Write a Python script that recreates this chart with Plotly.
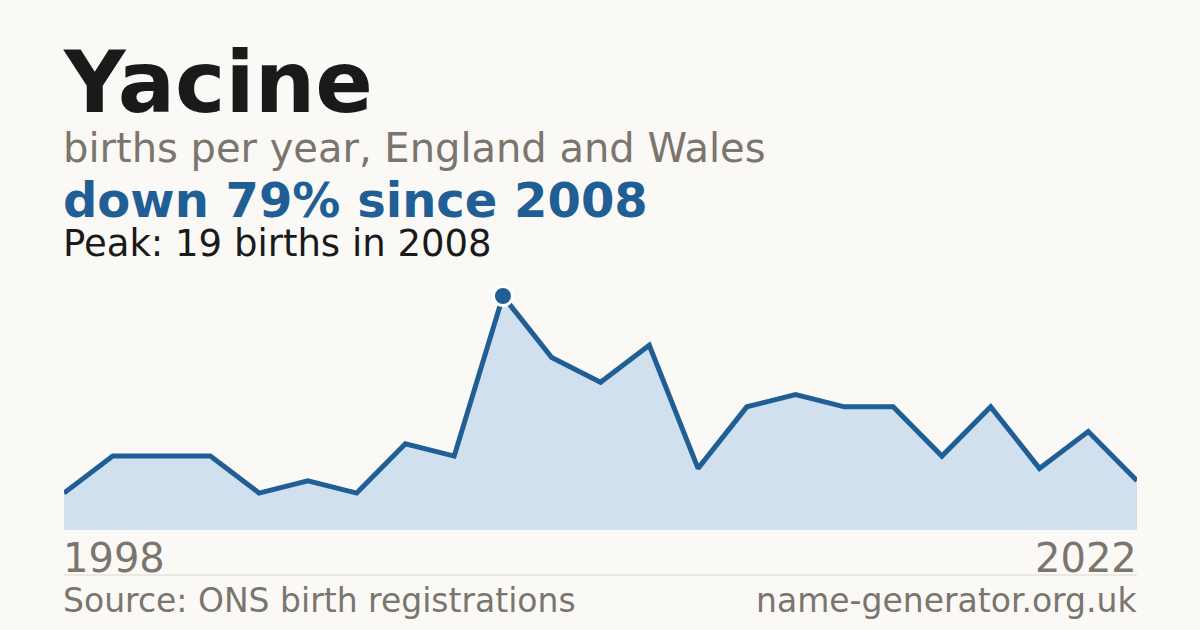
import plotly.graph_objects as go

W, H = 1200, 630

# births per year (years with too few births are not published, so two are absent)
years = ["1998", "1999", "2000", "2001", "2002", "2004", "2005", "2006", "2007",
         "2008", "2009", "2010", "2011", "2012", "2013", "2014", "2015", "2016",
         "2017", "2019", "2020", "2021", "2022"]
births = [3, 6, 6, 6, 3, 4, 3, 7, 6, 19, 14, 12, 15, 5, 10, 11, 10, 10, 6, 10, 5, 8, 4]

name = "Yacine"
peak_year = "2008"
peak_value = 19

BG = "#faf9f5"
BLUE = "#1f5f96"
FILL = "#d0e0ef"
GREY = "#7a756d"
DARK = "#1a1a1a"
FONT = "DejaVu Sans"
DESC = 0.236  # descent of DejaVu Sans, used to put text on a baseline


def px(x):
    return x / W


def py(y):
    return 1 - y / H


fig = go.Figure()
fig.add_trace(go.Scatter(
    x=years, y=births, mode="lines", fill="tozeroy", fillcolor=FILL,
    line=dict(color=BLUE, width=5), hoverinfo="skip", cliponaxis=False,
))
fig.add_trace(go.Scatter(
    x=[peak_year], y=[peak_value], mode="markers",
    marker=dict(color=BLUE, size=19, line=dict(color="white", width=3)),
    hoverinfo="skip", cliponaxis=False,
))

texts = [
    # text, x px, baseline px, size, colour, bold, anchor
    (name, 62, 113, 85, DARK, True, "left"),
    ("births per year, England and Wales", 62, 163, 40, GREY, False, "left"),
    ("down 79% since 2008", 62, 218, 48, BLUE, True, "left"),
    ("Peak: 19 births in 2008", 62, 257, 37, DARK, False, "left"),
    (years[0], 62, 573, 40, GREY, False, "left"),
    (years[-1], 1138, 573, 40, GREY, False, "right"),
    ("Source: ONS birth registrations", 62, 613, 33, GREY, False, "left"),
    ("name-generator.org.uk", 1138, 613, 33, GREY, False, "right"),
]
annotations = []
for t, x, y, s, c, b, a in texts:
    annotations.append(dict(
        text="<b>%s</b>" % t if b else t, x=px(x), y=py(y + DESC * s),
        xref="paper", yref="paper",
        xanchor=a, yanchor="bottom", showarrow=False, borderpad=0,
        font=dict(family=FONT, size=s, color=c),
    ))

fig.update_layout(
    width=W, height=H, paper_bgcolor=BG, plot_bgcolor=BG,
    margin=dict(l=0, r=0, t=0, b=0), showlegend=False,
    xaxis=dict(type="category", range=[0, len(years) - 1], domain=[px(64), px(1137)],
               visible=False, fixedrange=True),
    yaxis=dict(range=[0, peak_value], domain=[py(530), py(296)], visible=False, fixedrange=True),
    annotations=annotations,
    shapes=[dict(type="line", xref="paper", yref="paper", x0=px(64), x1=px(1137),
                 y0=py(575), y1=py(575), line=dict(color="#dcd8d0", width=1))],
)

fig.write_html("out.html", config={"displayModeBar": False},
               post_script="document.body.style.margin='0';"
                           "document.body.style.background='%s';" % BG)
